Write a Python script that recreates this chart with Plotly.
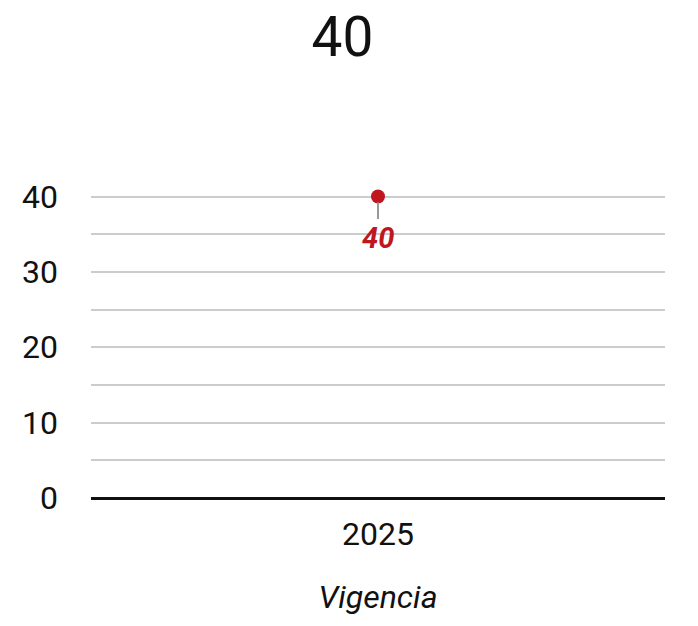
import plotly.graph_objects as go

categories = ["2025"]
values = [40]
title_text = "40"
x_title = "Vigencia"
y_tickvals = [0, 10, 20, 30, 40]

fig = go.Figure()
fig.add_trace(go.Scatter(
    x=categories, y=values, mode="markers",
    marker=dict(color="#c0161f", size=14),
    cliponaxis=False, showlegend=False, hoverinfo="skip"
))
for i, (c, v) in enumerate(zip(categories, values)):
    fig.add_annotation(
        x=i, y=v, xref="x", yref="y", text="<b><i>%d</i></b>" % v,
        showarrow=True, arrowhead=0, arrowcolor="#999999", arrowwidth=2,
        ax=0, ay=41, standoff=6,
        font=dict(family="Roboto", size=29, color="#c0161f"),
    )

fig.update_layout(
    width=690, height=618,
    margin=dict(l=83, r=33, t=181, b=128),
    paper_bgcolor="white", plot_bgcolor="white",
    font=dict(family="Roboto", color="#111111"),
    title=dict(text=title_text, x=0.4848, xanchor="center", y=1 - 29 / 618, yanchor="middle",
               font=dict(family="Roboto", size=55, color="#111111")),
    xaxis=dict(type="category", range=[-0.5, 0.5], showgrid=False, showline=False, zeroline=False,
               tickfont=dict(size=32, color="#111111"), ticks="", ticklabelstandoff=14,
               title=dict(text="<i>" + x_title + "</i>", font=dict(size=32, color="#111111"), standoff=33)),
    yaxis=dict(range=[0, 41], tickvals=y_tickvals, showgrid=True, gridcolor="#cccccc", gridwidth=2,
               minor=dict(dtick=5, tick0=0, showgrid=True, gridcolor="#cccccc", gridwidth=2),
               zeroline=True, zerolinecolor="#111111", zerolinewidth=2.5,
               showline=False, ticks="", ticklabelstandoff=32,
               tickfont=dict(size=32, color="#111111")),
)
fig.write_html("out.html")
